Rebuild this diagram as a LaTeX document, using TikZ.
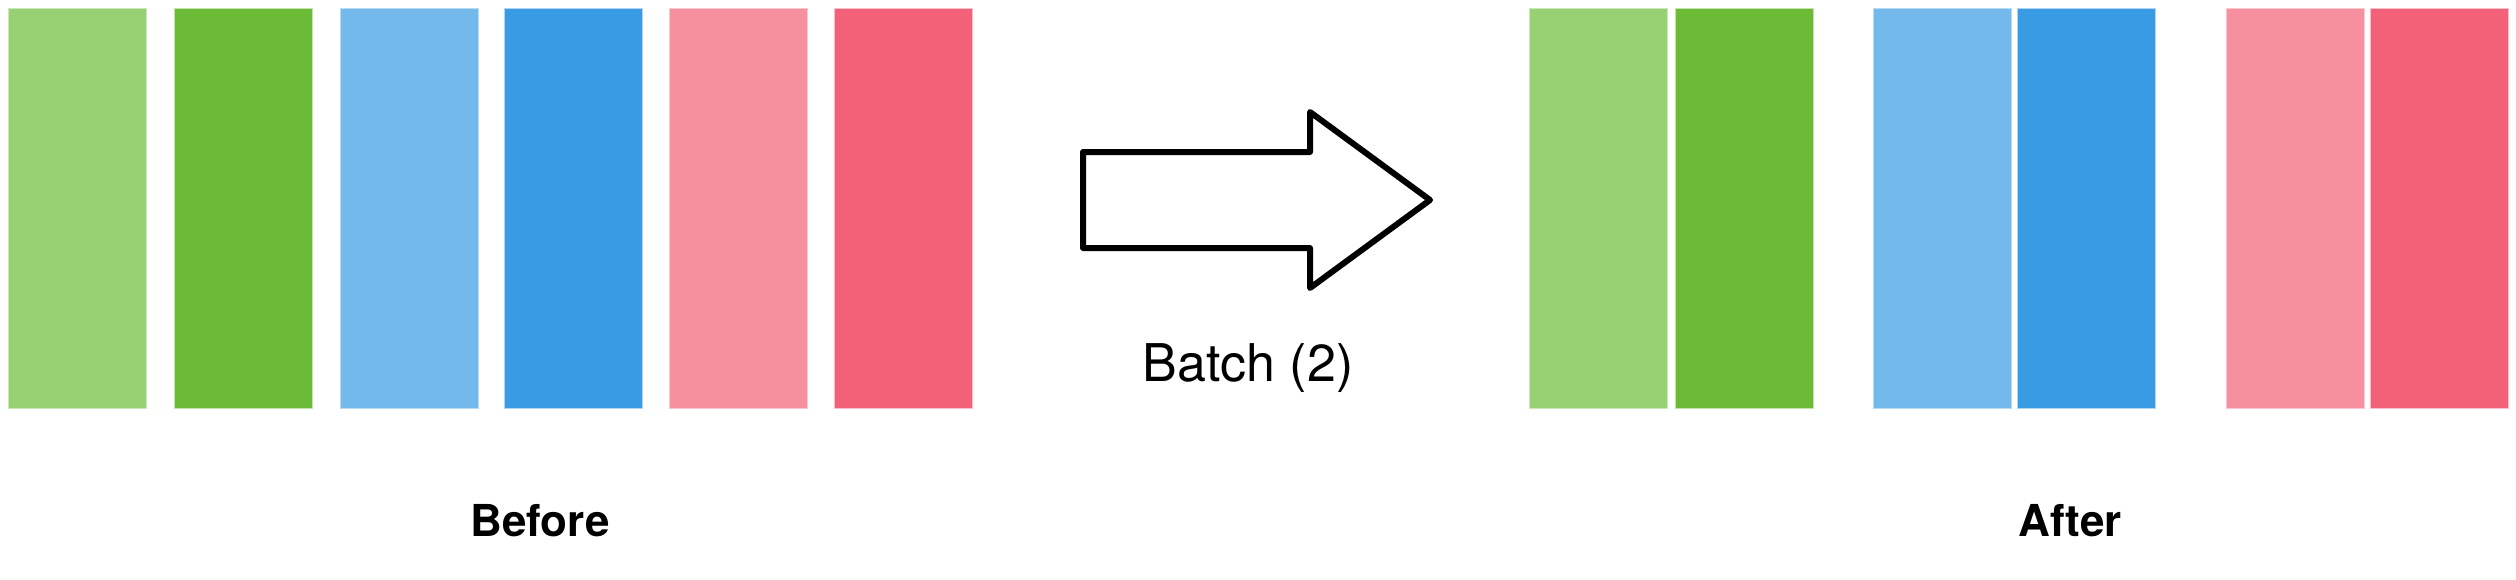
\documentclass[tikz,border=0pt]{standalone}
\usepackage{fontspec}
\setmainfont{TeX Gyre Heros}
\definecolor{lgreen}{HTML}{98D174}
\definecolor{dgreen}{HTML}{6BBB36}
\definecolor{lblue}{HTML}{73B9EB}
\definecolor{dblue}{HTML}{389BE4}
\definecolor{lpink}{HTML}{F6909E}
\definecolor{dred}{HTML}{F26178}
\begin{document}
\begin{tikzpicture}[x=0.5pt,y=-0.5pt,
  bar/.style={inner sep=0pt,outer sep=0pt,minimum width=69pt,minimum height=200pt,anchor=north west,line width=0.5pt},
  lbl/.style={inner sep=0pt,font=\fontsize{22pt}{24pt}\selectfont\bfseries},
  blbl/.style={inner sep=0pt,font=\fontsize{26pt}{28pt}\selectfont}]
\useasboundingbox (0,0) rectangle (2516,579);
% Before
\node[bar,fill=lgreen,draw=lgreen!50!white] (b1) at (8,8) {};
\node[bar,fill=dgreen,draw=dgreen!40!white] (b2) at (174,8) {};
\node[bar,fill=lblue,draw=lblue!50!white]  (b3) at (340,8) {};
\node[bar,fill=dblue,draw=dblue!40!white]  (b4) at (504,8) {};
\node[bar,fill=lpink,draw=lpink!50!white]  (b5) at (669,8) {};
\node[bar,fill=dred,draw=dred!40!white]    (b6) at (834,8) {};
% After
\node[bar,fill=lgreen,draw=lgreen!50!white] (a1) at (1529,8) {};
\node[bar,fill=dgreen,draw=dgreen!40!white] (a2) at (1675,8) {};
\node[bar,fill=lblue,draw=lblue!50!white]  (a3) at (1873,8) {};
\node[bar,fill=dblue,draw=dblue!40!white]  (a4) at (2017,8) {};
\node[bar,fill=lpink,draw=lpink!50!white]  (a5) at (2226,8) {};
\node[bar,fill=dred,draw=dred!40!white]    (a6) at (2370,8) {};
% Arrow
\coordinate (p1) at (1083,152);
\coordinate (p2) at (1310,152);
\coordinate (p3) at (1310,112);
\coordinate (tip) at (1430,200);
\coordinate (p5) at (1310,288);
\coordinate (p6) at (1310,248);
\coordinate (p7) at (1083,248);
\draw[line width=3pt,line join=round] (p1) -- (p2) -- (p3) -- (tip) -- (p5) -- (p6) -- (p7) -- cycle;
\node[blbl] (batch) at (1248,368) {Batch (2)};
\node[lbl] (before) at (540,521) {Before};
\node[lbl] (after) at (2070,521) {After};
\end{tikzpicture}
\end{document}
